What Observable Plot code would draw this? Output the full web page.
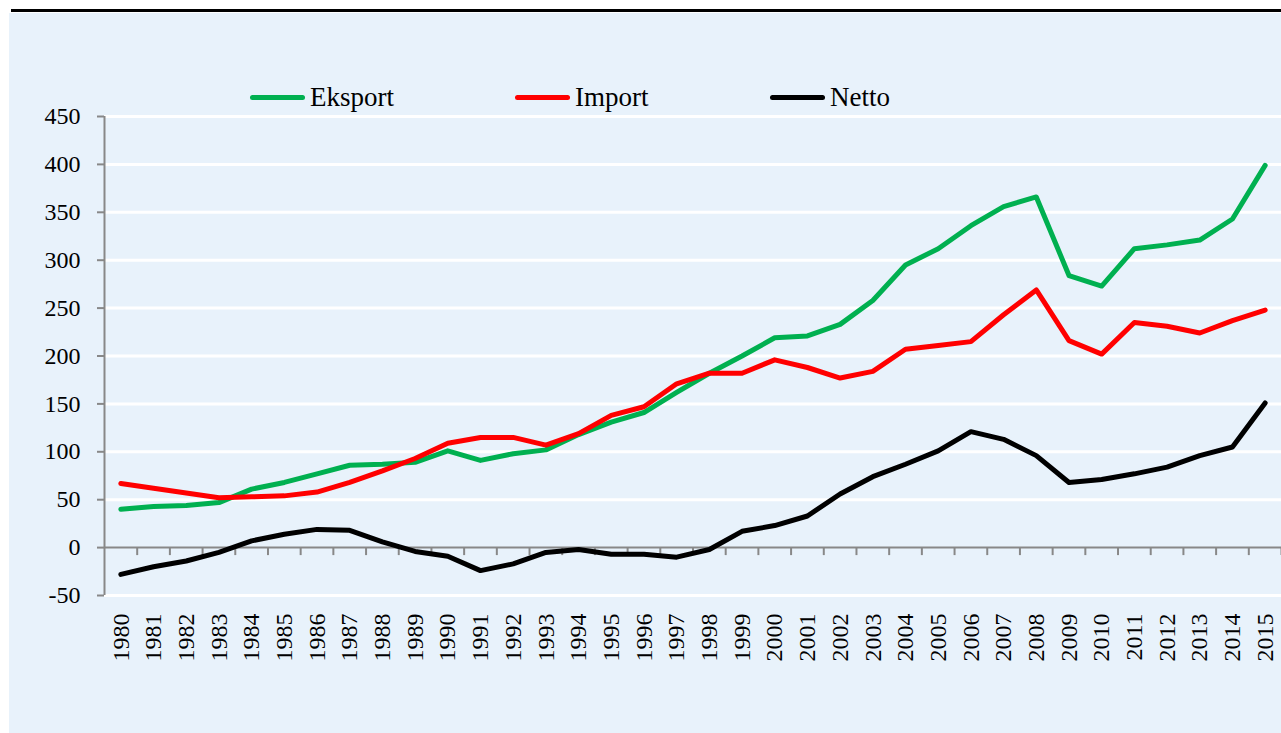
<!DOCTYPE html>
<html>
<head>
<meta charset="utf-8">
<script src="https://cdn.jsdelivr.net/npm/d3@7"></script>
<script src="https://cdn.jsdelivr.net/npm/@observablehq/plot@0.6"></script>
<style>
  body { margin: 0; background: #ffffff; }
  #wrap { position: relative; width: 1281px; height: 733px; overflow: hidden; }
  #bg { position: absolute; left: 9px; top: 13px; right: 0; bottom: 0; background: #E8F2FB; }
  #topline { position: absolute; left: 11px; top: 9px; right: 0; height: 3px; background: #000; }
  #chart { position: absolute; left: 0; top: 0; }
  #chart svg { display: block; }
  .item { position: absolute; top: 82px; height: 30px; line-height: 30px; display: flex; align-items: center;
          font-family: "Liberation Serif", serif; font-size: 27px; color: #000; white-space: nowrap; }
  .sw { width: 55px; height: 5px; border-radius: 3px; margin-right: 5px; }
</style>
</head>
<body>
<div id="wrap">
  <div id="bg"></div>
  <div id="topline"></div>
  <div id="chart"></div>
  <div id="legend"></div>
</div>
<script>
const years = [1980,1981,1982,1983,1984,1985,1986,1987,1988,1989,1990,1991,1992,1993,1994,1995,1996,1997,1998,1999,2000,2001,2002,2003,2004,2005,2006,2007,2008,2009,2010,2011,2012,2013,2014,2015];
const eksport = [40,43,44,47,61,68,77,86,87,89,101,91,98,102,118,131,141,162,182,200,219,221,233,258,295,312,336,356,366,284,273,312,316,321,343,399];
const importVals = [67,62,57,52,53,54,58,68,80,93,109,115,115,107,119,138,147,171,182,182,196,188,177,184,207,211,215,243,269,216,202,235,231,224,237,248];
const netto = [-28,-20,-14,-5,7,14,19,18,6,-4,-9,-24,-17,-5,-2,-7,-7,-10,-2,17,23,33,56,74,87,101,121,113,96,68,71,77,84,96,105,151];
const seriesNames = ["Eksport", "Import", "Netto"];
const seriesColors = ["#00B050", "#FF0000", "#000000"];
const legendX = [250, 515, 770];
const yTicks = [-50, 0, 50, 100, 150, 200, 250, 300, 350, 400, 450];

const seriesValues = [eksport, importVals, netto];
const data = [];
seriesNames.forEach((name, s) => {
  years.forEach((yr, i) => data.push({year: yr, value: seriesValues[s][i], series: name}));
});
const bounds = years.map(y => y + 0.5);

const chart = Plot.plot({
  width: 1281,
  height: 733,
  marginLeft: 104,
  marginRight: 0,
  marginTop: 116,
  marginBottom: 138,
  style: {background: "transparent", fontFamily: "'Liberation Serif', serif", fontSize: "24px", color: "#000", overflow: "visible"},
  x: {domain: [years[0] - 0.5, years[years.length - 1] + 0.5], axis: null, label: null},
  y: {domain: [yTicks[0], yTicks[yTicks.length - 1]], axis: null, label: null},
  color: {domain: seriesNames, range: seriesColors},
  marks: [
    Plot.ruleY(yTicks.filter(v => v !== 0), {stroke: "#ffffff", strokeWidth: 3}),
    Plot.ruleY([0], {stroke: "#888888", strokeWidth: 2}),
    Plot.ruleX([years[0] - 0.5], {stroke: "#888888", strokeWidth: 2}),
    Plot.ruleX(bounds, {y1: 0, y2: 0, insetBottom: -8, stroke: "#888888", strokeWidth: 2}),
    Plot.axisY({ticks: yTicks, tickSize: 7, stroke: "#888888", strokeWidth: 2, text: null, label: null}),
    Plot.axisY({ticks: yTicks, tickSize: 0, tickPadding: 24, tickFormat: d => String(d), fill: "#000", fontSize: 24, label: null}),
    Plot.axisX({ticks: years, tickSize: 0, tickPadding: 18, tickRotate: -90, tickFormat: d => String(d), fill: "#000", fontSize: 24, label: null}),
    Plot.line(data, {x: "year", y: "value", z: "series", stroke: "series", strokeWidth: 5, strokeLinecap: "round", strokeLinejoin: "round"})
  ]
});
document.getElementById("chart").appendChild(chart);

const legend = document.getElementById("legend");
seriesNames.forEach((name, i) => {
  const item = document.createElement("div");
  item.className = "item";
  item.style.left = legendX[i] + "px";
  const sw = document.createElement("span");
  sw.className = "sw";
  sw.style.background = seriesColors[i];
  const label = document.createElement("span");
  label.textContent = name;
  item.appendChild(sw);
  item.appendChild(label);
  legend.appendChild(item);
});
</script>
</body>
</html>
